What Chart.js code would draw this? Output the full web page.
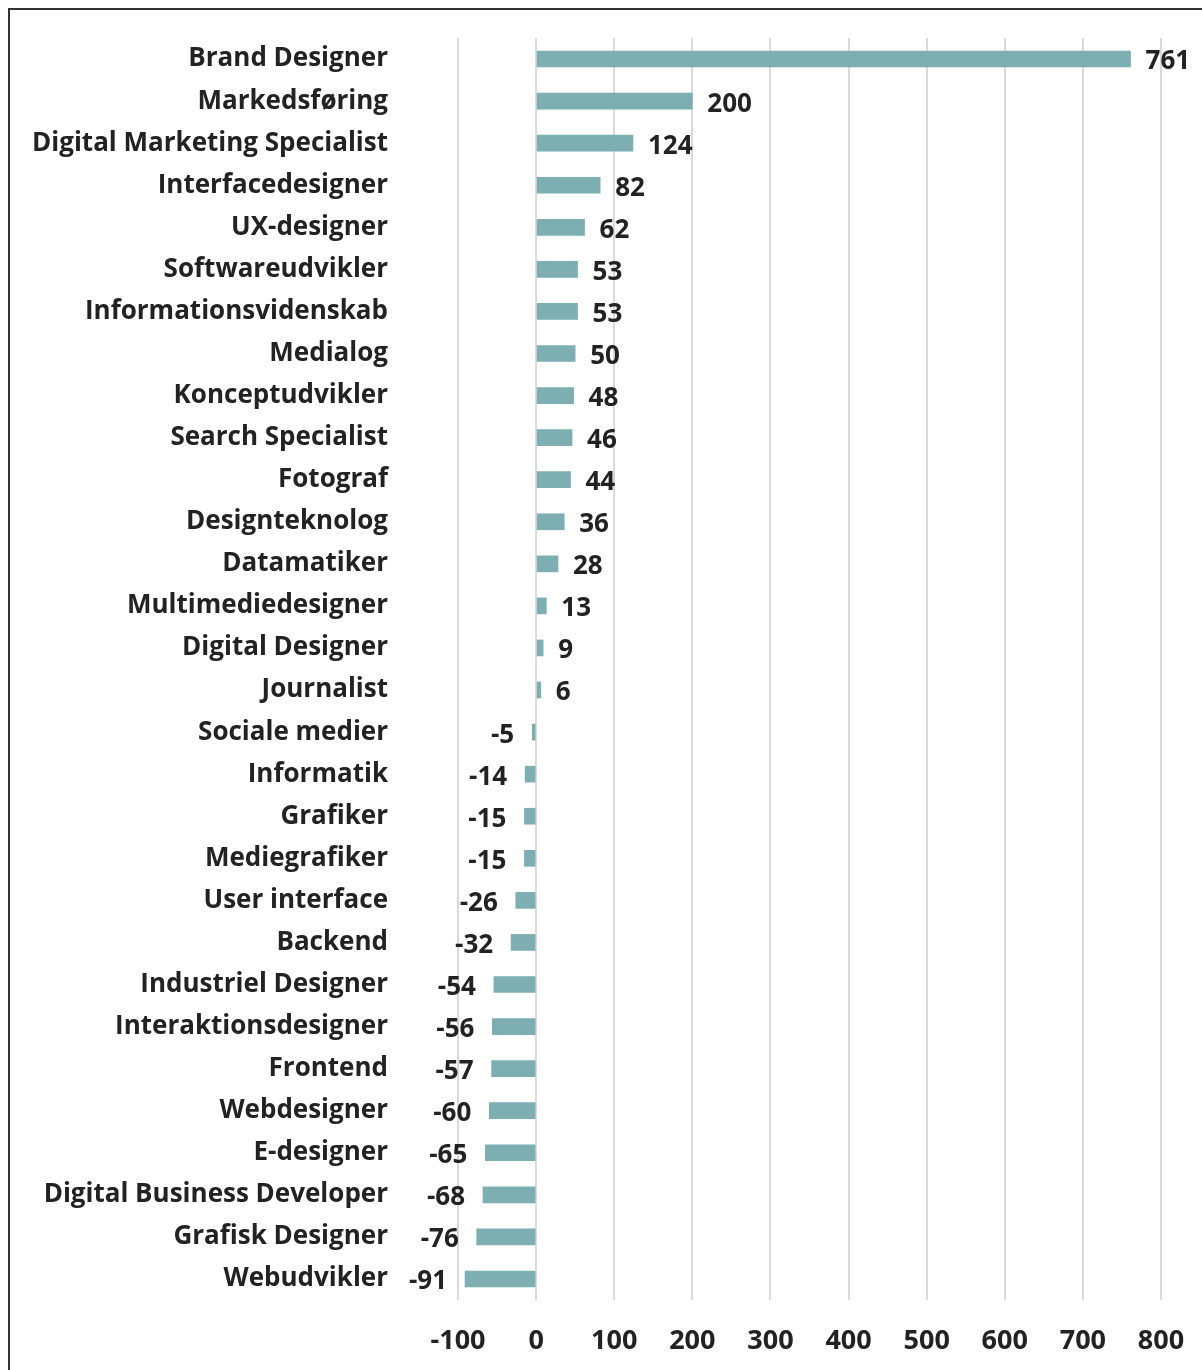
<!DOCTYPE html>
<html>
<head>
<meta charset="utf-8">
<script src="https://cdn.jsdelivr.net/npm/chart.js@4.4.1/dist/chart.umd.min.js"></script>
<style>
  html, body { margin: 0; padding: 0; background: #fff; overflow: hidden; }
  #wrap { position: relative; width: 1202px; height: 1370px; }
  #frame { position: absolute; left: 8px; top: 8px; width: 1300px; height: 1400px; border: 2px solid #333; box-sizing: border-box; }
  canvas { position: absolute; left: 0; top: 0; }
</style>
</head>
<body>
<div id="wrap">
  <canvas id="myChart" width="1202" height="1370"></canvas>
  <div id="frame"></div>
</div>
<script>
const jobs = ["Brand Designer", "Markedsføring", "Digital Marketing Specialist", "Interfacedesigner", "UX-designer",
  "Softwareudvikler", "Informationsvidenskab", "Medialog", "Konceptudvikler", "Search Specialist", "Fotograf",
  "Designteknolog", "Datamatiker", "Multimediedesigner", "Digital Designer", "Journalist", "Sociale medier",
  "Informatik", "Grafiker", "Mediegrafiker", "User interface", "Backend", "Industriel Designer",
  "Interaktionsdesigner", "Frontend", "Webdesigner", "E-designer", "Digital Business Developer",
  "Grafisk Designer", "Webudvikler"];
const change = [761, 200, 124, 82, 62, 53, 53, 50, 48, 46, 44, 36, 28, 13, 9, 6, -5, -14, -15, -15, -26, -32,
  -54, -56, -57, -60, -65, -68, -76, -91];
const xMin = -100, xMax = 800, xStep = 100;

const font = "'Open Sans', Lato, sans-serif";
const textColor = "#222222";

// value labels next to each bar end
const barLabels = {
  id: 'barLabels',
  afterDatasetsDraw(chart) {
    const c = chart.ctx;
    const meta = chart.getDatasetMeta(0);
    c.save();
    c.font = "bold 26px " + font;
    c.fillStyle = textColor;
    c.textBaseline = 'middle';
    meta.data.forEach(function (bar, i) {
      const v = change[i];
      if (v >= 0) {
        c.textAlign = 'left';
        c.fillText(String(v), bar.x + 15, bar.y + 3);
      } else {
        c.textAlign = 'right';
        c.fillText(String(v), bar.x - 18, bar.y + 3);
      }
    });
    c.restore();
  }
};

var ctx = document.getElementById('myChart').getContext('2d');
var chart = new Chart(ctx, {
  type: 'bar',
  data: {
    labels: jobs,
    datasets: [{
      data: change,
      backgroundColor: '#7DAEB1',
      borderWidth: 0,
      barThickness: 16
    }]
  },
  options: {
    indexAxis: 'y',
    responsive: false,
    animation: false,
    devicePixelRatio: 1,
    layout: { padding: { top: 38, right: 41, bottom: 0, left: 0 } },
    plugins: {
      legend: { display: false },
      tooltip: { enabled: false }
    },
    scales: {
      x: {
        min: xMin,
        max: xMax,
        // keep the plot area where the reference has it
        afterFit: function (s) { s.height = 70; s.paddingLeft = 0; s.paddingRight = 0; },
        border: { display: false },
        grid: { color: '#d9d9d9', lineWidth: 2, drawTicks: false },
        ticks: {
          stepSize: xStep,
          padding: 25,
          color: textColor,
          font: { family: font, size: 27, weight: 'bold' }
        }
      },
      y: {
        afterFit: function (s) { s.width = 458; s.paddingTop = 0; s.paddingBottom = 0; },
        border: { display: false },
        grid: { display: false, drawTicks: false },
        ticks: {
          padding: 70,
          color: textColor,
          autoSkip: false,
          font: { family: font, size: 26, weight: 'bold' }
        }
      }
    }
  },
  plugins: [barLabels]
});
</script>
</body>
</html>
